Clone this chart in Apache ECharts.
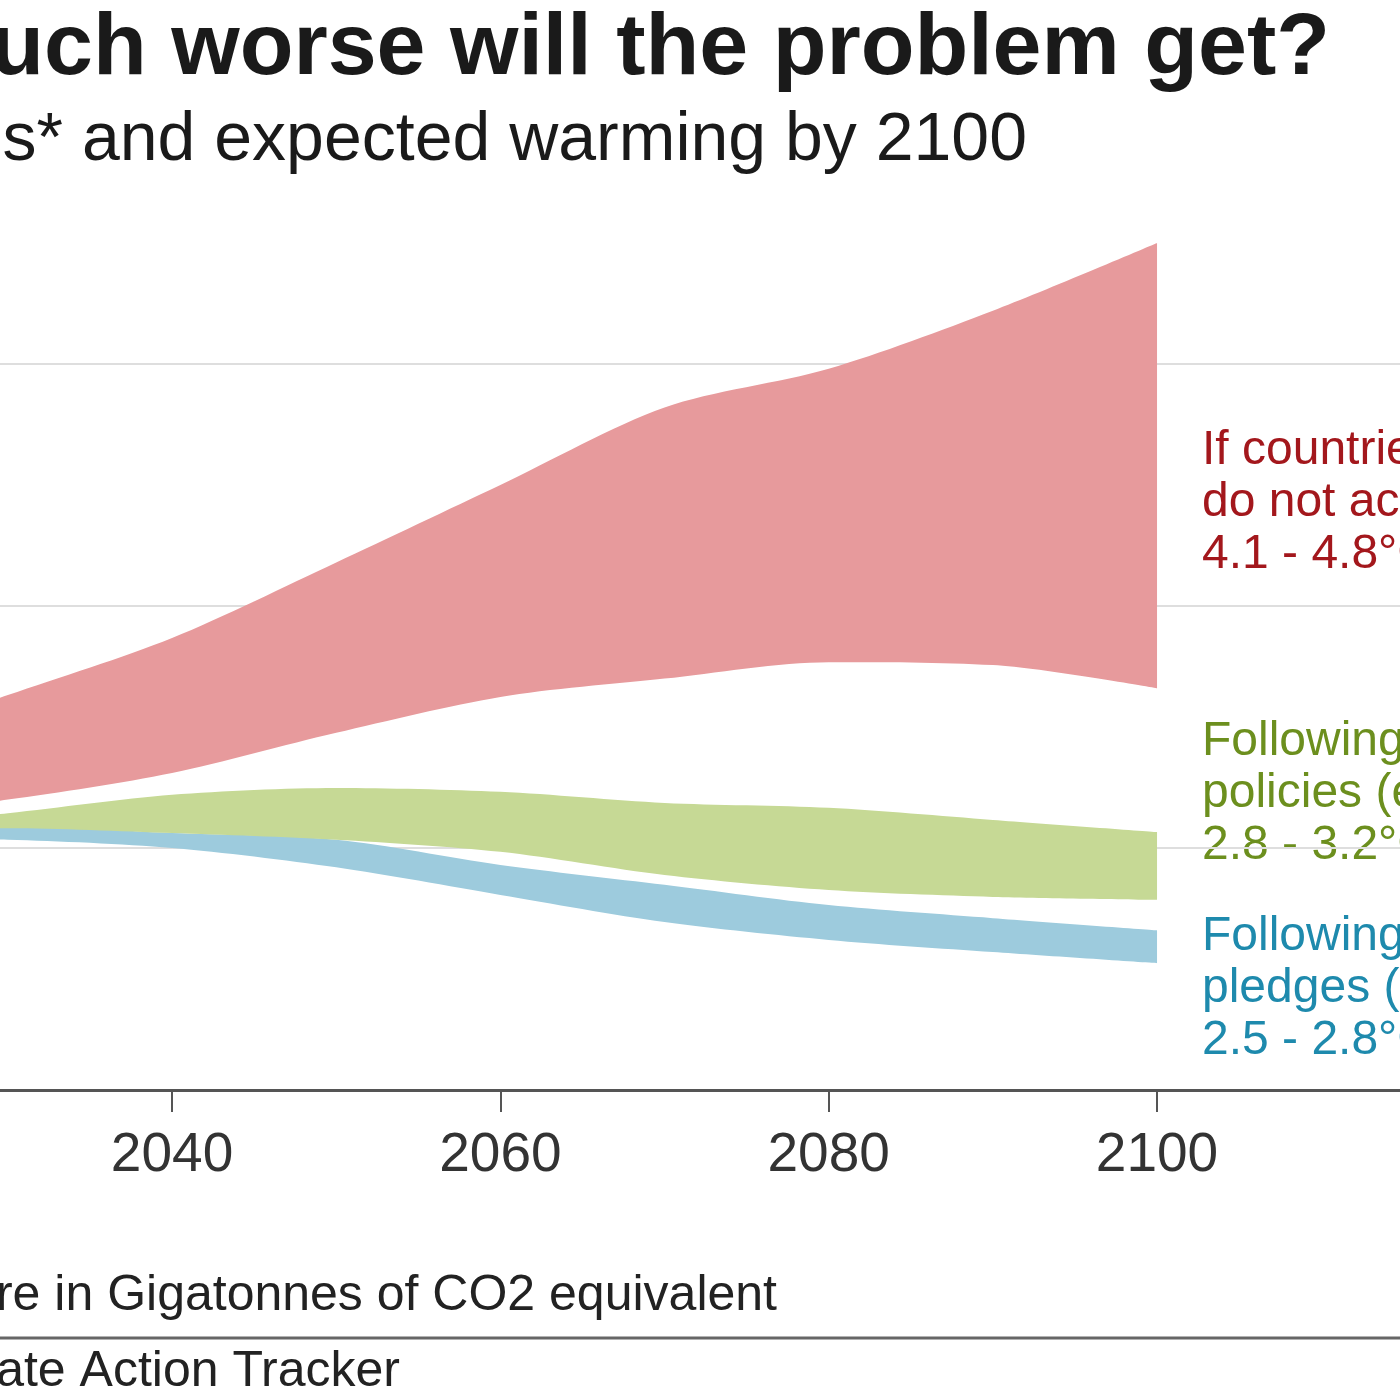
<!DOCTYPE html>
<html>
<head>
<meta charset="utf-8">
<title>How much worse will the problem get?</title>
<script src="https://cdn.jsdelivr.net/npm/echarts@6/dist/echarts.min.js"></script>
<style>
  html, body { margin: 0; padding: 0; background: #fff; overflow: hidden; }
  #chart { width: 1400px; height: 1400px; }
</style>
</head>
<body>
<div id="chart"></div>
<script>
// emissions, Gt CO2e
const years = [2020, 2030, 2040, 2050, 2060, 2070, 2080, 2090, 2100];
const noActionLow = [56, 60, 65.5, 73.8, 81.2, 85, 88.4, 87.8, 83];
const noActionHigh = [70, 81.6, 93.4, 109, 125, 141, 149, 161, 175];
const policiesLow = [52, 54.1, 53.1, 51.7, 49.2, 44.4, 41.3, 39.9, 39.3];
const policiesHigh = [54, 57.2, 61, 62.4, 61.6, 59.3, 58.3, 55.8, 53.3];
const pledgesLow = [52, 51.7, 50, 46, 40.3, 34.7, 31, 28.5, 26.2];
const pledgesHigh = [53, 54.5, 53.1, 51.7, 46.5, 42.4, 38.2, 35.5, 33];

const tickYears = [2040, 2060, 2080, 2100];

const noActionLabel = ['If countries', 'do not act', '4.1 - 4.8°C'];
const policiesLabel = ['Following current', 'policies (expected)', '2.8 - 3.2°C'];
const pledgesLabel = ['Following current', 'pledges (expected)', '2.5 - 2.8°C'];

const FONT = '"Liberation Sans", Arial, Helvetica, sans-serif';

// a band = invisible base line + stacked difference with fill
// value goes first in each pair so the stack happens on y, not on the year
function band(id, low, high, color) {
  const common = {
    type: 'line',
    stack: id,
    encode: { x: 1, y: 0 },
    symbol: 'none',
    smooth: 0.3,
    lineStyle: { width: 0, opacity: 0 },
    silent: true,
  };
  return [
    Object.assign({}, common, {
      name: id + '-base',
      data: years.map((y, i) => [low[i], y]),
    }),
    Object.assign({}, common, {
      name: id,
      data: years.map((y, i) => [+(high[i] - low[i]).toFixed(2), y]),
      areaStyle: { color: color, opacity: 1 },
    }),
  ];
}

function labelLines(lines, x, y0, color) {
  return lines.map((t, i) => ({
    type: 'text',
    x: x,
    y: y0 + i * 52,
    style: {
      text: t,
      fill: color,
      font: '48px ' + FONT,
      textAlign: 'left',
      textVerticalAlign: 'middle',
    },
  }));
}

const chart = echarts.init(document.getElementById('chart'));

const option = {
  backgroundColor: '#fff',
  animation: false,
  grid: {
    left: 0,
    right: 0,
    top: 122,
    bottom: 310,
    containLabel: false,
  },
  xAxis: {
    type: 'value',
    min: 2029.52,
    max: 2114.8,
    axisLine: { lineStyle: { color: '#555', width: 3 } },
    axisTick: {
      show: true,
      customValues: tickYears,
      length: 22,
      lineStyle: { color: '#555', width: 2 },
    },
    axisLabel: {
      customValues: tickYears,
      formatter: (v) => String(v),
      fontSize: 55,
      color: '#333',
      fontFamily: FONT,
      margin: 38,
    },
    splitLine: { show: false },
  },
  yAxis: {
    type: 'value',
    min: 0,
    max: 200,
    interval: 50,
    axisLine: { show: false },
    axisTick: { show: false },
    axisLabel: { show: false },
    splitLine: {
      show: true,
      showMinLine: false,
      showMaxLine: false,
      lineStyle: { color: '#dedede', width: 2 },
    },
  },
  series: [
    ...band('pledges', pledgesLow, pledgesHigh, '#9dcbdd'),
    ...band('policies', policiesLow, policiesHigh, '#c6d995'),
    ...band('noAction', noActionLow, noActionHigh, '#e79a9c'),
  ],
  graphic: [
    {
      type: 'text',
      x: 1330,
      y: 50,
      style: {
        text: 'How much worse will the problem get?',
        fill: '#1a1a1a',
        font: 'bold 88px ' + FONT,
        textAlign: 'right',
        textVerticalAlign: 'middle',
      },
    },
    {
      type: 'text',
      x: 1027,
      y: 141,
      style: {
        text: 'Global emissions* and expected warming by 2100',
        fill: '#1a1a1a',
        font: '68px ' + FONT,
        textAlign: 'right',
        textVerticalAlign: 'middle',
      },
    },
    ...labelLines(noActionLabel, 1202, 451, '#a3171c'),
    ...labelLines(policiesLabel, 1202, 742, '#6c8f1e'),
    ...labelLines(pledgesLabel, 1202, 937, '#1e8aad'),
    {
      type: 'text',
      x: 777,
      y: 1296,
      style: {
        text: '*Figures are in Gigatonnes of CO2 equivalent',
        fill: '#222',
        font: '50px ' + FONT,
        textAlign: 'right',
        textVerticalAlign: 'middle',
      },
    },
    {
      type: 'line',
      shape: { x1: 0, y1: 1338, x2: 1400, y2: 1338 },
      style: { stroke: '#666', lineWidth: 3 },
    },
    {
      type: 'text',
      x: 400,
      y: 1372,
      style: {
        text: 'Source: Climate Action Tracker',
        fill: '#222',
        font: '50px ' + FONT,
        textAlign: 'right',
        textVerticalAlign: 'middle',
      },
    },
  ],
};

chart.setOption(option);
</script>
</body>
</html>
